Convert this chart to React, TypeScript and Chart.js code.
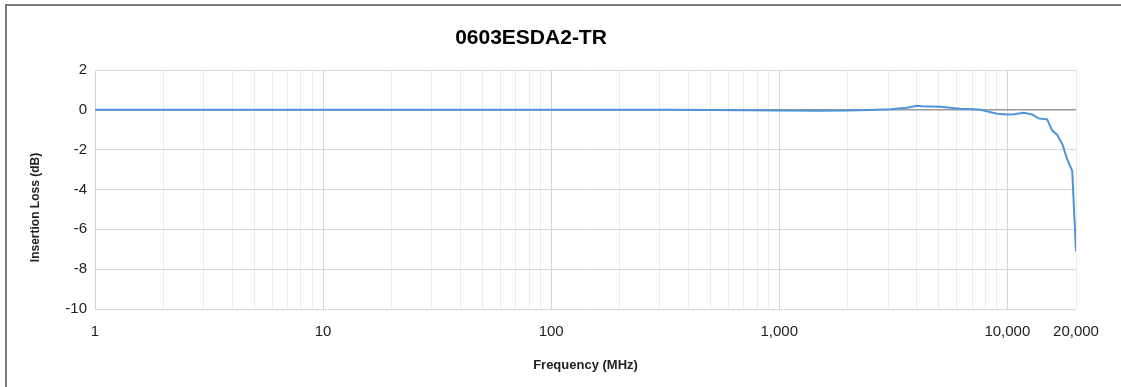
import React, { useEffect, useRef } from "react";
import { Chart, registerables } from "chart.js";

Chart.register(...registerables);

const TITLE = "0603ESDA2-TR";
const X_TITLE = "Frequency (MHz)";
const Y_TITLE = "Insertion Loss (dB)";

const FREQ_MHZ = [
  1, 1.5, 2, 3, 5, 7, 10, 15, 20, 30, 50, 70, 100, 150, 200, 300, 500, 700,
  1000, 1500, 2000, 2500, 3070, 3630, 4020, 4230, 5080, 5630, 6230, 7130, 7640,
  8120, 9020, 9970, 10700, 11800, 12850, 13700, 14950, 15730, 16530, 17480,
  18300, 19250, 20000,
];
const LOSS_DB = [
  0, 0, 0.01, 0.01, 0.01, 0.01, 0.01, 0.01, 0.01, 0.01, 0.01, 0.01, 0.01, 0.01,
  0, 0, -0.01, -0.02, -0.03, -0.04, -0.03, -0.01, 0.03, 0.1, 0.2, 0.18, 0.15,
  0.1, 0.05, 0.03, 0, -0.07, -0.2, -0.23, -0.22, -0.15, -0.23, -0.43, -0.48,
  -1.04, -1.25, -1.76, -2.48, -3.07, -7.1,
];

const X_LABELED = [1, 10, 100, 1000, 10000, 20000];
const X_MAJOR = [1, 10, 100, 1000, 10000];
const X_GRID: number[] = (() => {
  const out: number[] = [];
  for (let d = 1; d <= 1000; d *= 10) {
    for (let m = 1; m <= 9; m++) out.push(m * d);
  }
  out.push(10000, 20000);
  return out;
})();
const X_MIN = 1;
const X_MAX = 20000;
const Y_MIN = -10;
const Y_MAX = 2;
const Y_STEP = 2;

const FONT = '"Liberation Sans", Arial, sans-serif';

const titlePlugin = {
  id: "customTitles",
  afterDraw(chart: any) {
    const ctx = chart.ctx;
    ctx.save();
    ctx.font = `bold 21px ${FONT}`;
    ctx.fillStyle = "#000";
    ctx.textAlign = "center";
    ctx.textBaseline = "middle";
    ctx.fillText(TITLE, 531, 38);
    ctx.restore();

    ctx.save();
    ctx.font = `bold 12px ${FONT}`;
    ctx.fillStyle = "#222";
    ctx.textAlign = "center";
    ctx.textBaseline = "middle";
    ctx.translate(36, 207.5);
    ctx.rotate(-Math.PI / 2);
    ctx.fillText(Y_TITLE, 0, 0);
    ctx.restore();
  },
};

export default function App() {
  const ref = useRef<HTMLCanvasElement | null>(null);

  useEffect(() => {
    if (!ref.current) return;
    const chart = new Chart(ref.current, {
      type: "line",
      data: {
        datasets: [
          {
            data: FREQ_MHZ.map((f, i) => ({ x: f, y: LOSS_DB[i] })),
            borderColor: "#4f93d8",
            borderWidth: 2,
            pointRadius: 0,
            tension: 0,
            fill: false,
          },
        ],
      },
      plugins: [titlePlugin],
      options: {
        animation: false,
        responsive: false,
        devicePixelRatio: 1,
        layout: { padding: { top: 70, left: 25, right: 45, bottom: 10 } },
        plugins: {
          legend: { display: false },
          title: { display: false },
          tooltip: { enabled: false },
        },
        scales: {
          x: {
            type: "logarithmic",
            min: X_MIN,
            max: X_MAX,
            afterBuildTicks(scale: any) {
              scale.ticks = X_GRID.map((v) => ({ value: v }));
            },
            afterFit(scale: any) {
              scale.height = 68;
            },
            border: { display: false },
            grid: {
              drawTicks: false,
              lineWidth: 1,
              color: (ctx: any) =>
                X_MAJOR.includes(ctx.tick?.value) ? "#d4d4d4" : "#ebebeb",
            },
            ticks: {
              autoSkip: false,
              maxRotation: 0,
              padding: 14,
              color: "#222",
              font: { family: FONT, size: 15 },
              callback: (v: any) =>
                X_LABELED.includes(Number(v))
                  ? Number(v).toLocaleString("en-US")
                  : "",
            },
            title: {
              display: true,
              text: X_TITLE,
              color: "#222",
              font: { family: FONT, size: 13, weight: "bold" },
            },
          },
          y: {
            min: Y_MIN,
            max: Y_MAX,
            afterFit(scale: any) {
              scale.width = 70;
            },
            border: { display: false },
            grid: {
              drawTicks: false,
              color: (ctx: any) =>
                ctx.tick?.value === 0 ? "#9a9a9a" : "#dadada",
              lineWidth: (ctx: any) => (ctx.tick?.value === 0 ? 1.5 : 1),
            },
            ticks: {
              stepSize: Y_STEP,
              padding: 8,
              color: "#222",
              font: { family: FONT, size: 15 },
            },
            title: { display: false },
          },
        },
      },
    });
    return () => chart.destroy();
  }, []);

  return (
    <div
      style={{
        position: "fixed",
        left: 0,
        top: 0,
        width: 1121,
        height: 387,
        background: "#fff",
        overflow: "hidden",
      }}
    >
      <div
        style={{
          position: "absolute",
          left: 5,
          top: 4,
          width: 1130,
          height: 400,
          borderLeft: "2px solid #7a7a7a",
          borderTop: "2px solid #7a7a7a",
        }}
      />
      <canvas
        ref={ref}
        width={1121}
        height={387}
        style={{ position: "absolute", left: 0, top: 0, width: 1121, height: 387 }}
      />
    </div>
  );
}
